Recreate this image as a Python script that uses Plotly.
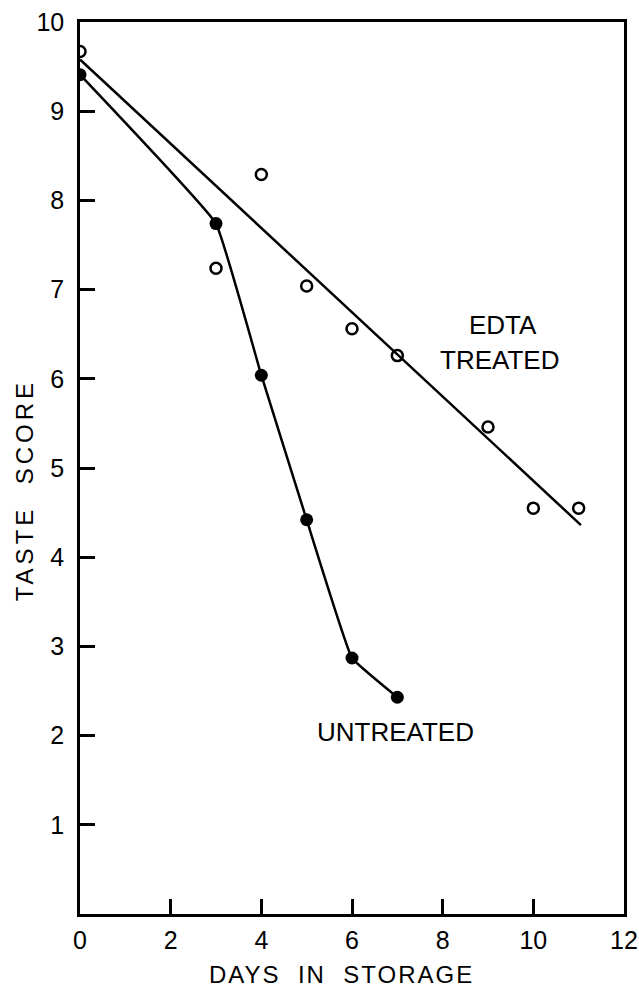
import plotly.graph_objects as go

# Data
days_edta = [0, 3, 4, 5, 6, 7, 9, 10, 11]
score_edta = [9.67, 7.24, 8.29, 7.04, 6.56, 6.26, 5.46, 4.55, 4.55]

fit_days = [0, 11.05]
fit_score = [9.58, 4.36]

days_untreated = [0, 3, 4, 5, 6, 7]
score_untreated = [9.41, 7.74, 6.04, 4.42, 2.87, 2.43]

x_ticks = [0, 2, 4, 6, 8, 10, 12]
y_ticks = [1, 2, 3, 4, 5, 6, 7, 8, 9, 10]

FONT = "Liberation Sans"

fig = go.Figure()

fig.add_trace(go.Scatter(
    x=fit_days, y=fit_score, mode="lines",
    line=dict(color="black", width=2.5), showlegend=False, hoverinfo="skip"))

fig.add_trace(go.Scatter(
    x=days_untreated, y=score_untreated, mode="lines+markers",
    line=dict(color="black", width=2.5, shape="spline", smoothing=0.25),
    marker=dict(symbol="circle", size=13, color="black"),
    showlegend=False))

fig.add_trace(go.Scatter(
    x=days_edta, y=score_edta, mode="markers",
    marker=dict(symbol="circle-open", size=11, color="black", line=dict(width=2.5)),
    showlegend=False))

fig.add_annotation(x=9.32, y=6.60, text="EDTA", showarrow=False,
                   font=dict(family=FONT, size=26, color="black"))
fig.add_annotation(x=9.25, y=6.21, text="TREATED", showarrow=False,
                   font=dict(family=FONT, size=26, color="black"))
fig.add_annotation(x=6.97, y=2.04, text="UNTREATED", showarrow=False,
                   font=dict(family=FONT, size=26, color="black"))

# Axis titles
fig.add_annotation(xref="paper", yref="paper", x=0.481, y=-0.068,
                   xanchor="center", yanchor="middle", showarrow=False,
                   text='<span style="letter-spacing:2px">DAYS  IN  STORAGE</span>',
                   font=dict(family=FONT, size=24, color="black"))
fig.add_annotation(xref="paper", yref="paper", x=-0.103, y=0.475,
                   xanchor="center", yanchor="middle", showarrow=False, textangle=-90,
                   text='<span style="letter-spacing:4px">TASTE  SCORE</span>',
                   font=dict(family=FONT, size=24, color="black"))

fig.update_layout(
    width=639, height=987,
    margin=dict(l=80, r=15, t=22, b=73),
    paper_bgcolor="white", plot_bgcolor="white",
    font=dict(family=FONT, color="black", size=22),
    xaxis=dict(
        range=[0, 12], tickvals=x_ticks, ticktext=[str(v) for v in x_ticks],
        ticks="inside", ticklen=15, tickwidth=2.5, tickcolor="black",
        showline=True, linewidth=2.5, linecolor="black", mirror=True,
        showgrid=False, zeroline=False, automargin=False,
        ticklabeloverflow="allow",
        tickfont=dict(family=FONT, size=25), ticklabelstandoff=2,
    ),
    yaxis=dict(
        range=[0, 10], tickvals=y_ticks, ticktext=[str(v) for v in y_ticks],
        ticks="inside", ticklen=15, tickwidth=2.5, tickcolor="black",
        showline=True, linewidth=2.5, linecolor="black", mirror=True,
        showgrid=False, zeroline=False, automargin=False,
        ticklabeloverflow="allow",
        tickfont=dict(family=FONT, size=25), ticklabelstandoff=8,
    ),
)

fig.write_html("out.html", config={"displayModeBar": False},
               post_script="document.body.style.margin='0';document.body.style.overflow='hidden';")
